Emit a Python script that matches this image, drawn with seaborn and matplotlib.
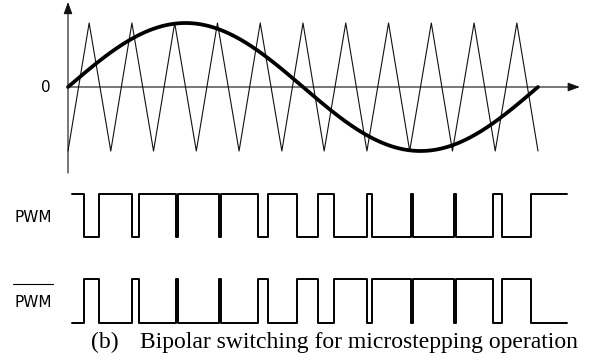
import numpy as np
import pandas as pd
import matplotlib
matplotlib.use("Agg")
import matplotlib.pyplot as plt
import seaborn as sns
from matplotlib.lines import Line2D

# Reference (modulating) sine wave: one full period over t = 0..1
ref_amplitude = 1.0
ref_cycles = 1

# Triangular carrier: vertex times and levels (11 carrier periods per reference period)
carrier_t = [0.000, 0.045, 0.091, 0.136, 0.182, 0.227, 0.273, 0.318, 0.364, 0.409,
             0.455, 0.500, 0.545, 0.591, 0.636, 0.682, 0.727, 0.773, 0.818, 0.864,
             0.909, 0.955, 1.000]
carrier_level = [-1, 1, -1, 1, -1, 1, -1, 1, -1, 1, -1, 1,
                 -1, 1, -1, 1, -1, 1, -1, 1, -1, 1, -1]

# PWM switching instants (signal starts high, toggles at each edge)
pwm_start = 0.008
pwm_edges = [0.033, 0.067, 0.137, 0.150, 0.230, 0.234, 0.322, 0.326,
             0.404, 0.426, 0.487, 0.531, 0.566, 0.636, 0.647, 0.730,
             0.734, 0.822, 0.826, 0.904, 0.924, 0.985]
pwm_end = 1.061

# Axis extents of the top diagram
x_axis_end = 1.089
y_axis_top = 1.328
y_axis_bottom = -1.344

W, H = 589, 362
fig = plt.figure(figsize=(W / 100, H / 100), dpi=100)
sns.set_style("white")

# Time axis: t = 0 at pixel column 68, t = 1 at pixel column 538
PX0, PX_PER_T = 68.0, 470.0
LEFT, RIGHT = 40.0, 589.0
xlim = ((LEFT - PX0) / PX_PER_T, (RIGHT - PX0) / PX_PER_T)


def make_axes(top, bottom, zero_px, px_per_unit):
    ax = fig.add_axes([LEFT / W, 1 - bottom / H, (RIGHT - LEFT) / W, (bottom - top) / H])
    ax.set_xlim(*xlim)
    ax.set_ylim((zero_px - bottom) / px_per_unit, (zero_px - top) / px_per_unit)
    ax.set_axis_off()
    return ax


ax_top = make_axes(0, 180, 87.0, 64.0)
ax_pwm = make_axes(185, 245, 236.7, 42.4)
ax_npwm = make_axes(270, 330, 322.7, 43.4)

# --- Top diagram: carrier and reference -------------------------------------
carrier = pd.DataFrame({"t": carrier_t, "v": carrier_level})
sns.lineplot(data=carrier, x="t", y="v", ax=ax_top, color="#111111", lw=0.8,
             sort=False, estimator=None)

t = np.linspace(0, 1, 600)
ref = pd.DataFrame({"t": t, "v": ref_amplitude * np.sin(2 * np.pi * ref_cycles * t)})
sns.lineplot(data=ref, x="t", y="v", ax=ax_top, color="black", lw=2.7,
             sort=False, estimator=None, solid_capstyle="round")

arrow = dict(arrowstyle="-|>,head_length=0.6,head_width=0.22", lw=0.8,
             color="#111111", shrinkA=0, shrinkB=0, mutation_scale=12)
ax_top.annotate("", xy=(x_axis_end, 0), xytext=(0, 0), arrowprops=arrow)
ax_top.annotate("", xy=(0, y_axis_top), xytext=(0, y_axis_bottom), arrowprops=arrow)

# --- PWM and complementary PWM ---------------------------------------------
x_sw = [pwm_start] + pwm_edges + [pwm_end]
levels = [1 - (i % 2) for i in range(len(pwm_edges) + 1)]
levels.append(levels[-1])
pwm = pd.DataFrame({"t": x_sw, "v": levels})
npwm = pd.DataFrame({"t": x_sw, "v": [1 - v for v in levels]})

sns.lineplot(data=pwm, x="t", y="v", ax=ax_pwm, color="black", lw=1.4,
             drawstyle="steps-post", sort=False, estimator=None)
sns.lineplot(data=npwm, x="t", y="v", ax=ax_npwm, color="black", lw=1.4,
             drawstyle="steps-post", sort=False, estimator=None)

# --- Labels -----------------------------------------------------------------
def fx(px):
    return px / W


def fy(py):
    return 1 - py / H


fig.text(fx(46.2), fy(92.5), "0", ha="center", va="baseline", fontsize=11,
         family="DejaVu Sans", color="black")
fig.text(fx(14.5), fy(221.7), "PWM", ha="left", va="baseline", fontsize=11,
         family="DejaVu Sans", color="black")
fig.text(fx(14.5), fy(307.3), "PWM", ha="left", va="baseline", fontsize=11,
         family="DejaVu Sans", color="black")
fig.add_artist(Line2D([fx(13.3), fx(53.3)], [fy(284.3), fy(284.3)],
                      color="black", lw=0.8))

fig.text(fx(91.5), fy(348.3), "(b)", ha="left", va="baseline", fontsize=17,
         family="Liberation Serif", color="black")
fig.text(fx(139.5), fy(348.3), "Bipolar switching for microstepping operation",
         ha="left", va="baseline", fontsize=17, family="Liberation Serif",
         color="black")

fig.savefig("out.png", dpi=100, facecolor="white")
